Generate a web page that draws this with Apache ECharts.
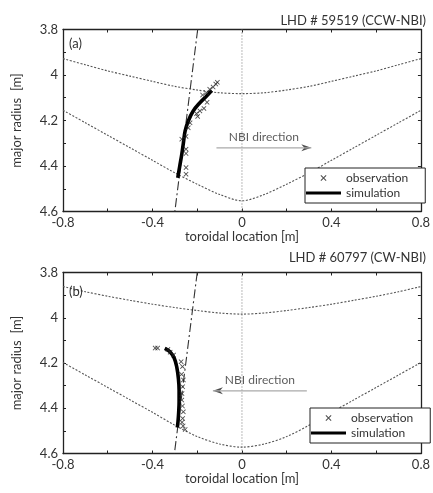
<!DOCTYPE html>
<html><head><meta charset="utf-8">
<script src="https://cdn.jsdelivr.net/npm/echarts@6/dist/echarts.min.js"></script>
<style>html,body{margin:0;padding:0;background:#fff}#c{width:433px;height:493px}</style>
</head><body><div id="c"></div>
<script>
// ---- data ----
const curveX = [-0.8,-0.7,-0.6,-0.5,-0.4,-0.3,-0.2,-0.1,0,0.1,0.2,0.3,0.4,0.5,0.6,0.7,0.8];
const upperA = [3.928,3.955,3.982,4.005,4.028,4.050,4.066,4.078,4.082,4.078,4.066,4.050,4.028,4.005,3.982,3.955,3.928];
const lowerA = [4.155,4.210,4.265,4.320,4.375,4.430,4.480,4.525,4.553,4.525,4.480,4.430,4.375,4.320,4.265,4.210,4.155];
const upperB = [3.862,3.885,3.905,3.923,3.940,3.955,3.968,3.979,3.984,3.979,3.968,3.955,3.940,3.923,3.905,3.885,3.862];
const lowerB = [4.198,4.253,4.308,4.363,4.418,4.475,4.525,4.558,4.572,4.558,4.525,4.475,4.418,4.363,4.308,4.253,4.198];

const obsA = [[-0.110,4.032],[-0.117,4.040],[-0.129,4.053],[-0.144,4.063],[-0.159,4.078],[-0.176,4.088],
  [-0.156,4.120],[-0.170,4.147],[-0.188,4.158],[-0.203,4.170],[-0.198,4.182],[-0.232,4.210],[-0.240,4.232],
  [-0.250,4.270],[-0.269,4.282],[-0.250,4.326],[-0.250,4.345],[-0.250,4.407],[-0.250,4.436]];
const simA = [[-0.287,4.452],[-0.278,4.400],[-0.269,4.348],[-0.262,4.300],[-0.254,4.246],[-0.240,4.202],
  [-0.218,4.158],[-0.188,4.122],[-0.159,4.093],[-0.135,4.068]];
const obsB = [[-0.388,4.134],[-0.377,4.134],[-0.331,4.140],[-0.321,4.152],[-0.306,4.165],[-0.272,4.194],
  [-0.266,4.216],[-0.270,4.250],[-0.262,4.275],[-0.265,4.305],[-0.268,4.335],[-0.269,4.364],[-0.266,4.390],
  [-0.262,4.416],[-0.265,4.445],[-0.268,4.462],[-0.263,4.478],[-0.254,4.494]];
const simB = [[-0.345,4.135],[-0.322,4.150],[-0.303,4.178],[-0.291,4.220],[-0.284,4.270],[-0.281,4.320],
  [-0.281,4.370],[-0.283,4.420],[-0.286,4.460],[-0.289,4.485]];
const chordA = [[-0.198,3.8],[-0.300,4.6]];
const chordB = [[-0.200,3.8],[-0.302,4.6]];
const zeroLine = [[0,3.8],[0,4.6]];
const arrowA = [[-0.114,4.320],[0.310,4.320]];
const arrowB = [[0.290,4.323],[-0.130,4.323]];
const titles = ['LHD # 59519 (CCW-NBI)','LHD # 60797 (CW-NBI)'];
const panelLabels = ['(a)','(b)'];
const arrowText = 'NBI direction';

// ---- chart ----
const FONT = 'Lato';
const X_PATH = 'path://M0,1.2L1.2,0L5,3.8L8.8,0L10,1.2L6.2,5L10,8.8L8.8,10L5,6.2L1.2,10L0,8.8L3.8,5Z';
const pair = (xs, ys) => xs.map((x,i)=>[x, ys[i]]);
const grids = [
  {left:63, right:8, top:29.5, height:182},
  {left:63, right:8, top:272.5, height:181}
];
const xAxes = [], yAxes = [];
grids.forEach((g,gi)=>{
  const common = {gridIndex:gi, type:'value', min:-0.8, max:0.8, interval:0.2,
    axisLine:{onZero:false, lineStyle:{color:'#222', width:1.3}}, axisTick:{inside:true, length:3, lineStyle:{color:'#222'}},
    splitLine:{show:false}};
  xAxes.push(Object.assign({}, common, {position:'bottom',
    axisLabel:{fontFamily:FONT, fontSize:13, color:'#333', margin:5,
      formatter:v=>{const t=Math.round(v*10); return (t%4===0)? String(t/10):'';}},
    name:'toroidal location [m]', nameLocation:'middle', nameGap:19,
    nameTextStyle:{fontFamily:FONT, fontSize:13, color:'#333'}}));
  xAxes.push(Object.assign({}, common, {position:'top', axisLabel:{show:false}}));
  const ycommon = {gridIndex:gi, type:'value', min:3.8, max:4.6, interval:0.1, inverse:true,
    axisLine:{onZero:false, lineStyle:{color:'#222', width:1.3}}, axisTick:{inside:true, length:3, lineStyle:{color:'#222'}},
    splitLine:{show:false}};
  yAxes.push(Object.assign({}, ycommon, {position:'left',
    axisLabel:{fontFamily:FONT, fontSize:13, color:'#333', margin:5,
      formatter:v=>{const t=Math.round(v*10); return (t%2===0)? String(t/10):'';}},
    name:'major radius  [m]', nameLocation:'middle', nameGap:40, nameRotate:90,
    nameTextStyle:{fontFamily:FONT, fontSize:13, color:'#333'}}));
  yAxes.push(Object.assign({}, ycommon, {position:'right', axisLabel:{show:false}}));
});

const series = [];
const panels = [
  {upper:upperA, lower:lowerA, obs:obsA, sim:simA, chord:chordA, arrow:arrowA, dir:'right'},
  {upper:upperB, lower:lowerB, obs:obsB, sim:simB, chord:chordB, arrow:arrowB, dir:'left'}
];
panels.forEach((p,gi)=>{
  const ax = {xAxisIndex:gi*2, yAxisIndex:gi*2};
  const dotted = {type:'line', showSymbol:false, symbol:'none', silent:true, smooth:0.3,
    lineStyle:{color:'#555', width:1.1, type:[2,1.6]}};
  series.push(Object.assign({}, ax, dotted, {data:pair(curveX,p.upper)}));
  series.push(Object.assign({}, ax, dotted, {data:pair(curveX,p.lower)}));
  series.push(Object.assign({}, ax, {type:'line', showSymbol:false, symbol:'none', silent:true, data:zeroLine,
    lineStyle:{color:'#777', width:1, type:[1,2]}}));
  series.push(Object.assign({}, ax, {type:'line', showSymbol:false, symbol:'none', silent:true, data:p.chord,
    lineStyle:{color:'#333', width:1.1, type:[9,3,2,3]}}));
  series.push(Object.assign({}, ax, {type:'line', showSymbol:false, symbol:'none', silent:true, data:p.arrow,
    lineStyle:{color:'#aaa', width:1.2}}));
  const mid = [(p.arrow[0][0]+p.arrow[1][0])/2, p.arrow[0][1]];
  series.push(Object.assign({}, ax, {type:'scatter', silent:true, symbolSize:0, data:[mid],
    label:{show:true, position:'top', distance:5, formatter:arrowText, fontFamily:FONT, fontSize:12, color:'#333'}}));
  series.push(Object.assign({}, ax, {type:'scatter', silent:true, data:[p.arrow[1]],
    symbol: p.dir==='right' ? 'path://M0,0L10,4L0,8L3,4Z' : 'path://M10,0L0,4L10,8L7,4Z',
    symbolSize:[10,7], symbolOffset:[p.dir==='right'?-5:5,0], itemStyle:{color:'#222'}}));
  series.push(Object.assign({}, ax, {name:'simulation', type:'line', showSymbol:false, symbol:'none', smooth:0.4,
    data:p.sim, color:'#000', itemStyle:{color:'#000'}, lineStyle:{color:'#000', width:3.6}, z:3}));
  series.push(Object.assign({}, ax, {name:'observation', type:'scatter', symbol:X_PATH, symbolSize:5,
    data:p.obs, color:'#222', itemStyle:{color:'#222'}, z:4}));
});

const legendBase = {orient:'vertical', itemWidth:35, itemHeight:6, itemGap:3, selectedMode:false,
  padding:[4,17,4,1], borderColor:'#222', borderWidth:1, backgroundColor:'#fff',
  textStyle:{fontFamily:FONT, fontSize:12, color:'#333'},
  data:[{name:'observation', icon:X_PATH},{name:'simulation', icon:'path://M0,0H36V3H0Z'}]};

const option = {
  animation:false,
  backgroundColor:'#fff',
  title:[
    {text:titles[0], right:7, top:14, padding:0, textStyle:{fontFamily:FONT, fontSize:13, fontWeight:'normal', color:'#333'}},
    {text:panelLabels[0], left:69, top:37, padding:0, textStyle:{fontFamily:FONT, fontSize:13, fontWeight:'normal', color:'#333'}},
    {text:titles[1], right:7, top:251, padding:0, textStyle:{fontFamily:FONT, fontSize:13, fontWeight:'normal', color:'#333'}},
    {text:panelLabels[1], left:69, top:285, padding:0, textStyle:{fontFamily:FONT, fontSize:13, fontWeight:'normal', color:'#333'}}
  ],
  legend:[
    Object.assign({}, legendBase, {left:305, top:168}),
    Object.assign({}, legendBase, {left:310, top:408})
  ],
  grid:grids,
  xAxis:xAxes,
  yAxis:yAxes,
  series:series
};
const chart = echarts.init(document.getElementById('c'), null, {renderer:'canvas'});
chart.setOption(option);
</script>
</body></html>
